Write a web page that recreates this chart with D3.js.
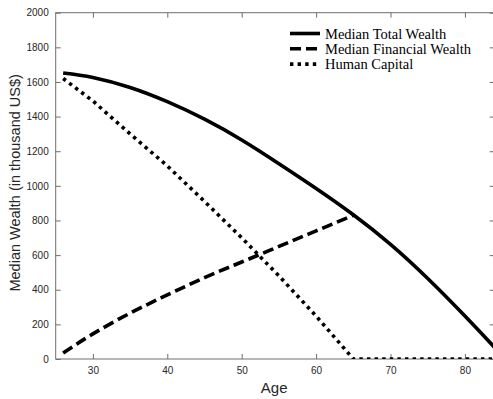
<!DOCTYPE html>
<html>
<head>
<meta charset="utf-8">
<script src="https://cdn.jsdelivr.net/npm/d3@7"></script>
<style>
  body { margin: 0; background: #fff; }
  svg { display: block; }
</style>
</head>
<body>
<div id="chart-area"></div>
<script>
var ages = [26, 30, 35, 40, 45, 50, 55, 60, 65, 70, 75, 80, 84, 85];
var totalWealth = [1652, 1626, 1568, 1486, 1385, 1265, 1128, 985, 833, 662, 465, 248, 66, 20];

var finAges = [26, 30, 35, 40, 45, 50, 55, 60, 65];
var financialWealth = [35, 145, 265, 370, 470, 560, 650, 740, 830];

var hcAges = [26, 30, 35, 40, 45, 50, 55, 60, 65, 70, 75, 80, 85];
var humanCapital = [1620, 1490, 1300, 1115, 910, 700, 480, 248, 0, 0, 0, 0, 0];

var legendLabels = ["Median Total Wealth", "Median Financial Wealth", "Human Capital"];
var xTicks = [30, 40, 50, 60, 70, 80];
var yTicks = [0, 200, 400, 600, 800, 1000, 1200, 1400, 1600, 1800, 2000];

var W = 493, H = 399;
var margin = {top: 12.7, left: 55.7, bottom: 40};
var width = 439;               // box runs just past the right edge, like the source
var height = H - margin.top - margin.bottom;

var svg = d3.select("#chart-area").append("svg").attr("width", W).attr("height", H);

var x = d3.scaleLinear().domain([25, 84]).range([0, width]);
var y = d3.scaleLinear().domain([0, 2000]).range([height, 0]);

var g = svg.append("g").attr("transform", "translate(" + margin.left + "," + margin.top + ")");

g.append("clipPath").attr("id", "clip")
  .append("rect").attr("x", 0).attr("y", 0).attr("width", width).attr("height", height);

var axisColor = "#6e6e6e";
var tickLen = 5;

// box
g.append("rect")
  .attr("x", 0).attr("y", 0).attr("width", width).attr("height", height)
  .attr("fill", "none").attr("stroke", axisColor).attr("stroke-width", 1);

var fmt = d3.format("d");
// bottom axis
g.append("g").attr("transform", "translate(0," + height + ")")
  .call(d3.axisBottom(x).tickValues(xTicks).tickFormat(fmt).tickSizeInner(-tickLen).tickSizeOuter(0).tickPadding(8));
// left axis
g.append("g")
  .call(d3.axisLeft(y).tickValues(yTicks).tickFormat(fmt).tickSizeInner(-tickLen).tickSizeOuter(0).tickPadding(7));
// top and right ticks only
g.append("g").call(d3.axisTop(x).tickValues(xTicks).tickSizeInner(-tickLen).tickSizeOuter(0).tickFormat(""));
g.append("g").attr("transform", "translate(" + width + ",0)")
  .call(d3.axisRight(y).tickValues(yTicks).tickSizeInner(-tickLen).tickSizeOuter(0).tickFormat(""));

g.selectAll(".domain").remove();
g.selectAll(".tick line").attr("stroke", axisColor);
g.selectAll(".tick text")
  .attr("fill", "#262626")
  .attr("font-family", "Liberation Sans, Arial, sans-serif")
  .attr("font-size", "10px");

// axis labels
g.append("text")
  .attr("x", width / 2 - 1).attr("y", height + 34)
  .attr("text-anchor", "middle")
  .attr("font-family", "Liberation Sans, Arial, sans-serif")
  .attr("font-size", "15px").attr("fill", "#262626")
  .text("Age");

g.append("text")
  .attr("transform", "rotate(-90)")
  .attr("x", -height / 2 + 3).attr("y", -36)
  .attr("text-anchor", "middle")
  .attr("font-family", "Liberation Sans, Arial, sans-serif")
  .attr("font-size", "14.5px").attr("fill", "#262626")
  .text("Median Wealth (in thousand US$)");

var styles = [
  {dash: null, w: 3.6, curve: d3.curveNatural},
  {dash: "11,5", w: 3.6, curve: d3.curveNatural},
  {dash: "3.4,4.2", w: 3.6, curve: d3.curveLinear}
];

var series = [
  d3.zip(ages, totalWealth),
  d3.zip(finAges, financialWealth),
  d3.zip(hcAges, humanCapital)
];

var plot = g.append("g").attr("clip-path", "url(#clip)");
series.forEach(function(s, i) {
  var line = d3.line()
    .x(function(d) { return x(d[0]); })
    .y(function(d) { return y(d[1]); })
    .curve(styles[i].curve);
  plot.append("path")
    .datum(s)
    .attr("d", line)
    .attr("fill", "none")
    .attr("stroke", "#000")
    .attr("stroke-width", styles[i].w)
    .attr("stroke-dasharray", styles[i].dash)
    .attr("stroke-linecap", "butt")
    .attr("stroke-linejoin", "round");
});

// legend
var leg = g.append("g").attr("transform", "translate(" + (290 - margin.left) + "," + (33.5 - margin.top) + ")");
legendLabels.forEach(function(lab, i) {
  var row = leg.append("g").attr("transform", "translate(0," + (i * 15.3) + ")");
  row.append("line")
    .attr("x1", 0).attr("x2", 30).attr("y1", 0).attr("y2", 0)
    .attr("stroke", "#000").attr("stroke-width", styles[i].w)
    .attr("stroke-dasharray", styles[i].dash);
  row.append("text")
    .attr("x", 35).attr("y", 0).attr("dy", "0.35em")
    .attr("font-family", "Liberation Serif, Times New Roman, serif")
    .attr("font-size", "14.5px").attr("fill", "#000")
    .text(lab);
});
</script>
</body>
</html>
